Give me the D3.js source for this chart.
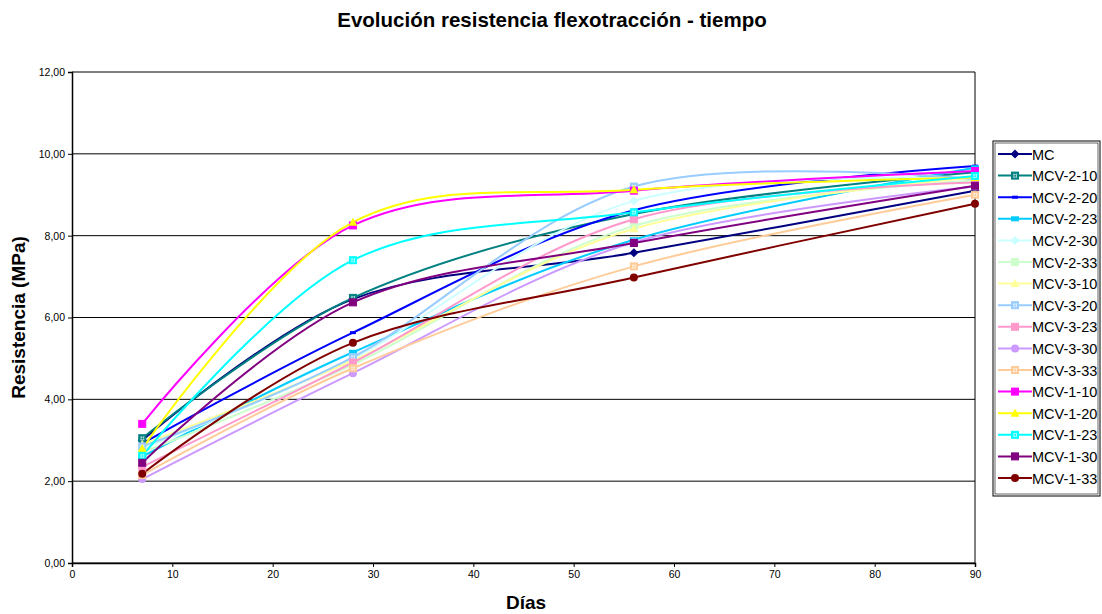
<!DOCTYPE html>
<html lang="es">
<head>
    <meta charset="UTF-8">
    <title>Evolución resistencia flexotracción - tiempo</title>
    <script src="https://cdnjs.cloudflare.com/ajax/libs/d3/7.8.5/d3.min.js"></script>
    <style>
        body { margin: 0; background: #fff; }
        svg { font-family: Arial, "Liberation Sans", sans-serif; }
    </style>
</head>
<body>
    <div id="chart"></div>

    <script>
        // Días de ensayo
        const days = [7, 28, 56, 90];

        // Series (nombre, color, marcador)
        const names = ["MC", "MCV-2-10", "MCV-2-20", "MCV-2-23", "MCV-2-30", "MCV-2-33",
            "MCV-3-10", "MCV-3-20", "MCV-3-23", "MCV-3-30", "MCV-3-33",
            "MCV-1-10", "MCV-1-20", "MCV-1-23", "MCV-1-30", "MCV-1-33"];
        const colors = ["#000080", "#008080", "#0000ff", "#00ccff", "#ccffff", "#ccffcc",
            "#ffff99", "#99ccff", "#ff99cc", "#cc99ff", "#ffcc99",
            "#ff00ff", "#ffff00", "#00ffff", "#800080", "#800000"];
        const markers = ["diamond", "squareX", "dash", "rect", "diamond", "square",
            "triangle", "squareX", "square", "circle", "squareX",
            "square", "triangle", "squareX", "square", "circle"];

        // Resistencia (MPa) a 7, 28, 56 y 90 días
        const values = [
            [3.00, 6.45, 7.58, 9.10],
            [3.05, 6.48, 8.53, 9.55],
            [2.92, 5.63, 8.62, 9.70],
            [2.60, 5.15, 7.90, 9.66],
            [2.80, 5.00, 8.85, 9.40],
            [2.70, 4.85, 8.24, 9.35],
            [2.90, 4.95, 8.17, 9.42],
            [2.85, 5.03, 9.20, 9.38],
            [2.35, 4.90, 8.40, 9.30],
            [2.05, 4.64, 7.84, 9.20],
            [2.15, 4.76, 7.25, 9.00],
            [3.40, 8.25, 9.10, 9.58],
            [2.80, 8.33, 9.12, 9.42],
            [2.62, 7.40, 8.57, 9.46],
            [2.45, 6.37, 7.82, 9.22],
            [2.18, 5.38, 6.98, 8.78]
        ];

        const xTicks = [0, 10, 20, 30, 40, 50, 60, 70, 80, 90];
        const yTicks = [0, 2, 4, 6, 8, 10, 12];

        const W = 1102, H = 614;
        const plot = {left: 72, top: 72, right: 975, bottom: 563};

        const svg = d3.select("#chart").append("svg")
            .attr("width", W)
            .attr("height", H);

        const x = d3.scaleLinear().domain([0, 90]).range([plot.left, plot.right]);
        const y = d3.scaleLinear().domain([0, 12]).range([plot.bottom, plot.top]);

        // Título
        svg.append("text")
            .attr("x", 552).attr("y", 27)
            .attr("text-anchor", "middle")
            .attr("font-size", 20.5).attr("font-weight", "bold")
            .text("Evolución resistencia flexotracción - tiempo");

        // Líneas de división horizontales
        svg.append("g")
            .selectAll("line")
            .data(yTicks)
            .join("line")
            .attr("x1", plot.left).attr("x2", plot.right)
            .attr("y1", d => y(d)).attr("y2", d => y(d))
            .attr("stroke", "#000").attr("stroke-width", 1);

        svg.append("line")
            .attr("x1", plot.right).attr("x2", plot.right)
            .attr("y1", plot.top).attr("y2", plot.bottom)
            .attr("stroke", "#000");

        // Ejes
        const fmt = d => d.toFixed(2).replace(".", ",");
        const yAxis = svg.append("g")
            .attr("transform", `translate(${plot.left},0)`)
            .call(d3.axisLeft(y).tickValues(yTicks).tickFormat(fmt).tickSize(4).tickPadding(3));
        yAxis.select(".domain").attr("stroke-width", 1.5);
        yAxis.selectAll("text").attr("font-size", 10.5).attr("font-family", "Arial, 'Liberation Sans', sans-serif");

        const xAxis = svg.append("g")
            .attr("transform", `translate(0,${plot.bottom})`)
            .call(d3.axisBottom(x).tickValues(xTicks).tickFormat(d3.format("d")).tickSize(4).tickPadding(4));
        xAxis.select(".domain").attr("stroke-width", 1.5);
        xAxis.selectAll("text").attr("font-size", 10.5).attr("font-family", "Arial, 'Liberation Sans', sans-serif");

        svg.append("text")
            .attr("text-anchor", "middle")
            .attr("transform", `translate(25,${(plot.top + plot.bottom) / 2}) rotate(-90)`)
            .attr("font-size", 19).attr("font-weight", "bold")
            .text("Resistencia (MPa)");

        svg.append("text")
            .attr("x", 526).attr("y", 609)
            .attr("text-anchor", "middle")
            .attr("font-size", 19).attr("font-weight", "bold")
            .text("Días");

        // Líneas suavizadas
        const line = d3.line()
            .x((d, i) => x(days[i]))
            .y(d => y(d))
            .curve(d3.curveCardinal.tension(0));

        const series = names.map((n, i) => ({name: n, color: colors[i], marker: markers[i], vals: values[i]}));

        svg.append("g")
            .selectAll("path")
            .data(series)
            .join("path")
            .attr("fill", "none")
            .attr("stroke", d => d.color)
            .attr("stroke-width", 2)
            .attr("d", d => line(d.vals));

        function drawMarker(g, type, color) {
            const s = 3.5;
            if (type === "diamond") {
                g.append("path").attr("d", `M0,${-s - 1}L${s + 1},0L0,${s + 1}L${-s - 1},0Z`).attr("fill", color);
            } else if (type === "square" || type === "squareX") {
                g.append("rect").attr("x", -s).attr("y", -s).attr("width", 2 * s).attr("height", 2 * s)
                    .attr("fill", color).attr("stroke", color);
                if (type === "squareX") {
                    g.append("path").attr("d", `M${-s + 1.5},-1H${s - 1.5}M${-s + 1.5},1.5H${s - 1.5}M-1,${-s + 1.5}V${s - 1.5}M1.5,${-s + 1.5}V${s - 1.5}`)
                        .attr("stroke", "#fff").attr("stroke-width", 0.7).attr("opacity", 0.8);
                }
            } else if (type === "triangle") {
                g.append("path").attr("d", `M0,${-s - 1}L${s + 1},${s}L${-s - 1},${s}Z`).attr("fill", color);
            } else if (type === "circle") {
                g.append("circle").attr("r", s + 0.5).attr("fill", color);
            } else if (type === "dash") {
                g.append("rect").attr("x", -3).attr("y", -1.5).attr("width", 6).attr("height", 3).attr("fill", color);
            } else if (type === "rect") {
                g.append("rect").attr("x", -4).attr("y", -2.5).attr("width", 8).attr("height", 5).attr("fill", color);
            }
        }

        // Marcadores
        series.forEach(s => {
            s.vals.forEach((v, i) => {
                const g = svg.append("g").attr("transform", `translate(${x(days[i])},${y(v)})`);
                drawMarker(g, s.marker, s.color);
            });
        });

        // Leyenda
        const lg = svg.append("g").attr("transform", "translate(993,141)");
        lg.append("rect")
            .attr("x", 0).attr("y", 0).attr("width", 107).attr("height", 355)
            .attr("fill", "#fff").attr("stroke", "#000").attr("stroke-width", 1);
        lg.append("rect")
            .attr("x", 2).attr("y", 2).attr("width", 103).attr("height", 351)
            .attr("fill", "none").attr("stroke", "#000").attr("stroke-width", 0.6);

        series.forEach((s, i) => {
            const row = lg.append("g").attr("transform", `translate(0,${13 + i * 21.6})`);
            row.append("line").attr("x1", 5).attr("x2", 39).attr("y1", 0).attr("y2", 0)
                .attr("stroke", s.color).attr("stroke-width", 2);
            drawMarker(row.append("g").attr("transform", "translate(22,0)"), s.marker, s.color);
            row.append("text").attr("x", 39).attr("y", 5.5)
                .attr("font-size", 14.5).text(s.name);
        });
    </script>
</body>
</html>
